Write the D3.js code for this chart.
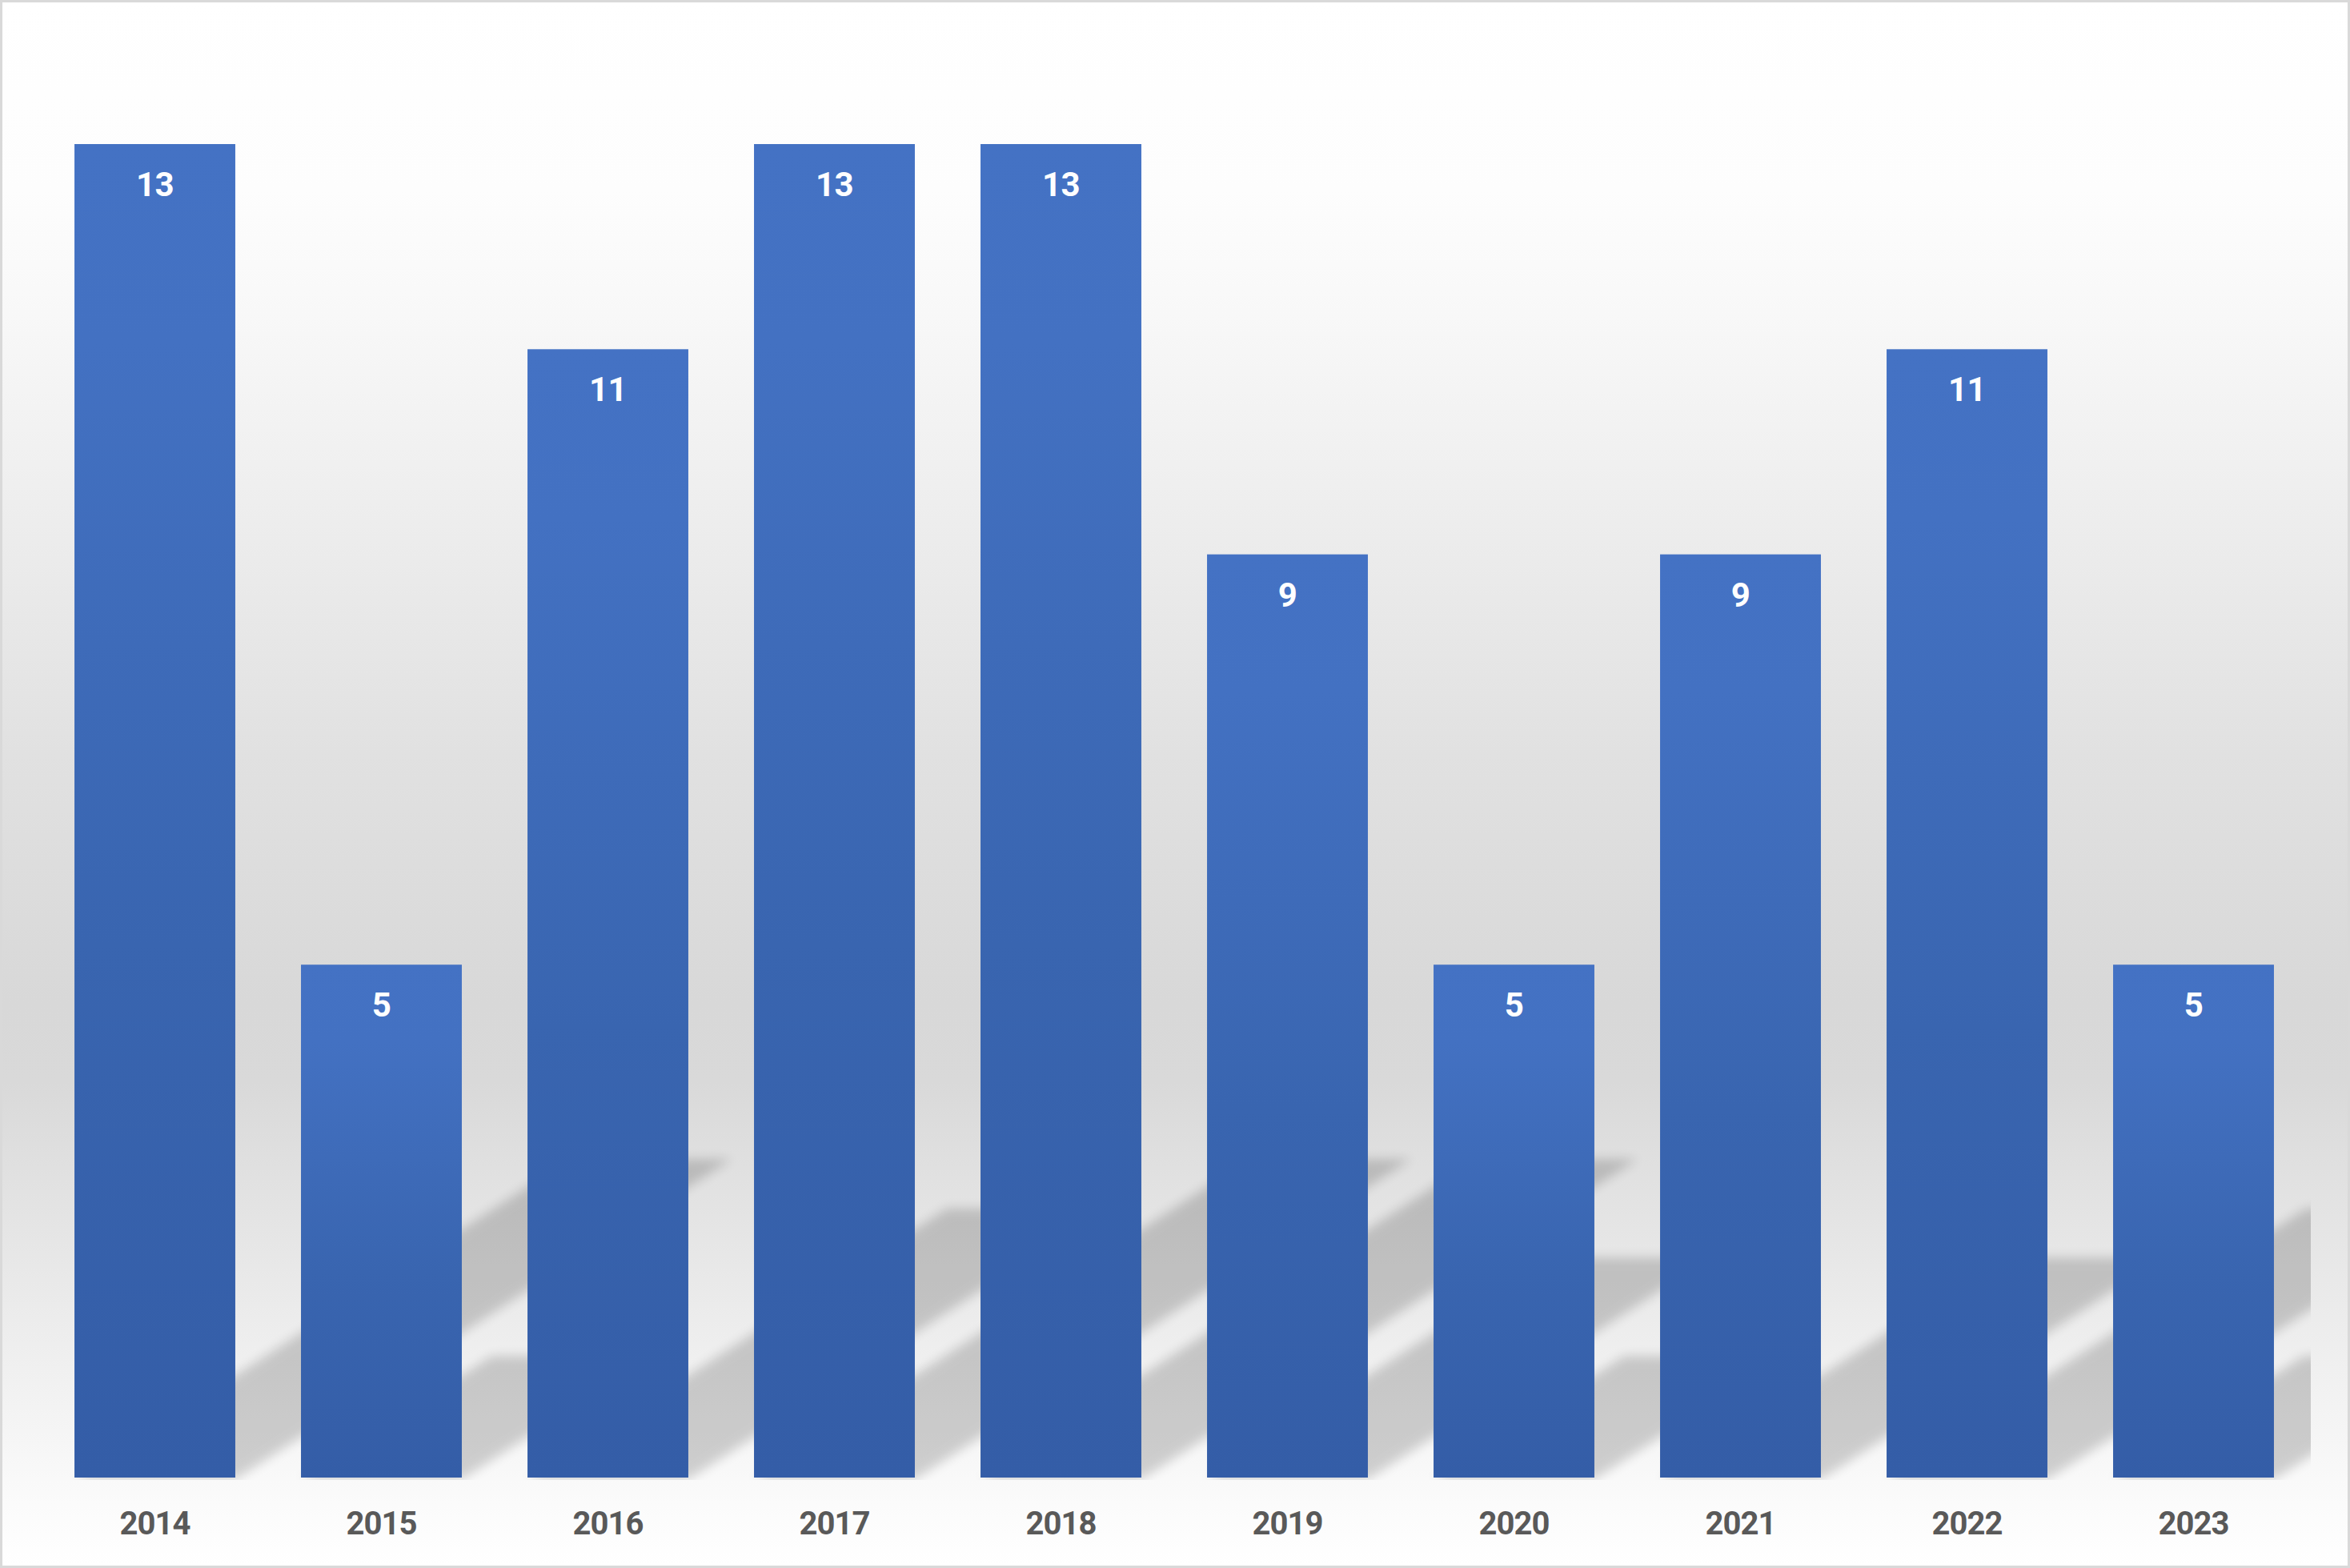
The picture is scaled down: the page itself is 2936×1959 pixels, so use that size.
<!DOCTYPE html>
<html>
<head>
<meta charset="utf-8">
<script src="https://cdnjs.cloudflare.com/ajax/libs/d3/7.8.5/d3.min.js"></script>
<style>
  html, body { margin: 0; padding: 0; background: #ffffff; }
  svg { display: block; }
</style>
</head>
<body>
<div id="chart"></div>
<script>
// ---- data ----
const categories = ['2014', '2015', '2016', '2017', '2018', '2019', '2020', '2021', '2022', '2023'];
const values = [13, 5, 11, 13, 13, 9, 5, 9, 11, 5];
const yDomainMax = 14;

// ---- layout ----
const W = 2936, H = 1959;
const plot = { left: 52, right: 2882, top: 52, bottom: 1846 };

const svg = d3.select('#chart').append('svg')
  .attr('width', W).attr('height', H)
  .attr('viewBox', `0 0 ${W} ${H}`);

const defs = svg.append('defs');

// chart background gradient
const bg = defs.append('linearGradient').attr('id', 'bgGrad')
  .attr('x1', 0).attr('y1', 0).attr('x2', 0).attr('y2', 1);
[[0, '#ffffff'], [0.12, '#fdfdfd'], [0.2, '#f8f8f8'], [0.32, '#eeeeee'], [0.48, '#e1e1e1'],
 [0.64, '#d8d8d8'], [0.69, '#d9d9d9'], [0.8, '#e7e7e7'], [0.89, '#f2f2f2'], [0.96, '#fbfbfb'], [1, '#ffffff']]
  .forEach(([o, c]) => bg.append('stop').attr('offset', o).attr('stop-color', c));

// bar gradient
const bgBar = defs.append('linearGradient').attr('id', 'barGrad')
  .attr('x1', 0).attr('y1', 0).attr('x2', 0).attr('y2', 1);
[[0, '#4472c4'], [0.15, '#4371c2'], [0.6, '#3965b0'], [1, '#345da7']]
  .forEach(([o, c]) => bgBar.append('stop').attr('offset', o).attr('stop-color', c));

// shadow blur
const f = defs.append('filter').attr('id', 'shBlur')
  .attr('x', '-20%').attr('y', '-20%').attr('width', '140%').attr('height', '140%');
f.append('feGaussianBlur').attr('stdDeviation', 7);

// clip for shadows (plot area)
defs.append('clipPath').attr('id', 'plotClip')
  .append('rect')
  .attr('x', plot.left).attr('y', plot.top)
  .attr('width', plot.right + 5 - plot.left)
  .attr('height', plot.bottom + 3 - plot.top);

// background + border
svg.append('rect')
  .attr('x', 1.5).attr('y', 1.5)
  .attr('width', W - 3).attr('height', H - 3)
  .attr('fill', 'url(#bgGrad)')
  .attr('stroke', '#d9d9d9').attr('stroke-width', 3);

// ---- scales ----
const x = d3.scaleBand()
  .domain(categories)
  .range([plot.left, plot.right])
  .paddingInner(0.29)
  .paddingOuter(0.145);

const y = d3.scaleLinear()
  .domain([0, yDomainMax])
  .range([plot.bottom, plot.bottom - yDomainMax * 128.154]);

const data = categories.map((c, i) => ({ cat: c, v: values[i] }));

// ---- perspective shadows ----
const sY = 0.24, skew = 1.55;
const shG = svg.append('g').attr('clip-path', 'url(#plotClip)')
  .append('g').attr('opacity', 0.17).attr('filter', 'url(#shBlur)');

shG.selectAll('path.shadow').data(data).enter().append('path')
  .attr('class', 'shadow')
  .attr('fill', '#000')
  .attr('d', d => {
    const x0 = x(d.cat), x1 = x(d.cat) + x.bandwidth();
    const B = y(0) + 2;
    const h = (y(0) - y(d.v)) * sY;
    const dx = h * skew;
    return `M${x0},${B}L${x1},${B}L${x1 + dx},${B - h}L${x0 + dx},${B - h}Z`;
  });

// ---- bars ----
svg.append('g').selectAll('rect.bar').data(data).enter().append('rect')
  .attr('class', 'bar')
  .attr('x', d => x(d.cat))
  .attr('y', d => y(d.v))
  .attr('width', x.bandwidth())
  .attr('height', d => y(0) - y(d.v))
  .attr('fill', 'url(#barGrad)');

// ---- value labels ----
svg.append('g').selectAll('text.val').data(data).enter().append('text')
  .attr('class', 'val')
  .attr('x', d => x(d.cat) + x.bandwidth() / 2)
  .attr('y', d => y(d.v) + 65)
  .attr('text-anchor', 'middle')
  .attr('fill', '#ffffff')
  .style('font-family', 'Roboto, "DejaVu Sans", sans-serif')
  .style('font-weight', 700)
  .style('font-size', '42px')
  .style('letter-spacing', '-0.5px')
  .text(d => d.v);

// ---- category axis labels ----
const xAxis = d3.axisBottom(x).tickSize(0).tickPadding(0);
const axG = svg.append('g')
  .attr('transform', `translate(0, ${plot.bottom})`)
  .call(xAxis);
axG.select('.domain').remove();
axG.selectAll('text')
  .attr('y', 71)
  .attr('dy', 0)
  .attr('fill', '#595959')
  .style('font-family', 'Roboto, "DejaVu Sans", sans-serif')
  .style('font-weight', 700)
  .style('font-size', '40px')
  .style('letter-spacing', '-1px');
</script>
</body>
</html>
